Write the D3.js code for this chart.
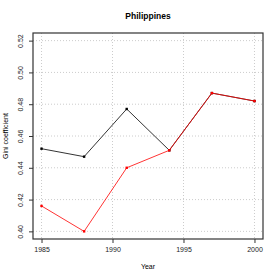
<!DOCTYPE html>
<html>
<head>
<meta charset="utf-8">
<script src="https://cdn.jsdelivr.net/npm/d3@7"></script>
<style>
  body { margin: 0; background: #fff; }
  text { font-family: "Liberation Sans", Arial, sans-serif; }
</style>
</head>
<body>
<div id="chart"></div>
<script>
// data
var years = [1985, 1988, 1991, 1994, 1997, 2000];
var giniBlack = [0.452, 0.447, 0.477, 0.451, 0.487, 0.482];
var giniRed = [0.416, 0.400, 0.440, 0.451, 0.487, 0.482];
var xTicks = [1985, 1990, 1995, 2000];
var yTicks = [0.40, 0.42, 0.44, 0.46, 0.48, 0.50, 0.52];

const size = { width: 280, height: 280 };
const box = { left: 33, right: 263, top: 33, bottom: 239 };

var svg = d3.select("#chart")
    .append("svg")
    .attr("width", size.width)
    .attr("height", size.height);

// scales (R style 4% padding)
var x_scale = d3.scaleLinear()
    .domain([1984.4, 2000.6])
    .range([box.left, box.right]);

var y_scale = d3.scaleLinear()
    .domain([0.3952, 0.5248])
    .range([box.bottom, box.top]);

// grid
svg.append("g")
    .selectAll("line")
    .data(xTicks)
    .join("line")
    .attr("x1", d => x_scale(d)).attr("x2", d => x_scale(d))
    .attr("y1", box.top).attr("y2", box.bottom)
    .attr("stroke", "#cccccc")
    .attr("stroke-dasharray", "1,2");
svg.append("g")
    .selectAll("line")
    .data(yTicks)
    .join("line")
    .attr("y1", d => y_scale(d)).attr("y2", d => y_scale(d))
    .attr("x1", box.left).attr("x2", box.right)
    .attr("stroke", "#cccccc")
    .attr("stroke-dasharray", "1,2");

// axes
var x_axis = d3.axisBottom(x_scale)
    .tickValues(xTicks)
    .tickSize(4)
    .tickPadding(4)
    .tickFormat(d3.format("d"));
var gx = svg.append("g")
    .attr("transform", "translate(0," + box.bottom + ")")
    .call(x_axis);
gx.select(".domain").remove();
gx.selectAll("line").attr("stroke", "#333");
gx.selectAll("text").attr("font-size", 7).attr("fill", "#222");

var y_axis = d3.axisLeft(y_scale)
    .tickValues(yTicks)
    .tickSize(4)
    .tickFormat(d3.format(".2f"));
var gy = svg.append("g")
    .attr("transform", "translate(" + box.left + ",0)")
    .call(y_axis);
gy.select(".domain").remove();
gy.selectAll("line").attr("stroke", "#333");
gy.selectAll("text")
    .attr("font-size", 7)
    .attr("fill", "#222")
    .attr("x", null).attr("dy", null)
    .attr("text-anchor", "middle")
    .attr("transform", "translate(-10,0) rotate(-90)")
    .attr("y", 0);

// box
svg.append("rect")
    .attr("x", box.left).attr("y", box.top)
    .attr("width", box.right - box.left)
    .attr("height", box.bottom - box.top)
    .attr("fill", "none")
    .attr("stroke", "#333")
    .attr("stroke-width", 1.2);

// series
function drawSeries(values, colour) {
    var pts = years.map((y, i) => ({ x: y, y: values[i] }));
    svg.append("path")
        .datum(pts)
        .attr("fill", "none")
        .attr("stroke", colour)
        .attr("stroke-width", 0.8)
        .attr("d", d3.line()
            .x(d => x_scale(d.x))
            .y(d => y_scale(d.y)));
    svg.append("g")
        .selectAll("rect")
        .data(pts)
        .join("rect")
        .attr("x", d => x_scale(d.x) - 1.2)
        .attr("y", d => y_scale(d.y) - 1.2)
        .attr("width", 2.4).attr("height", 2.4)
        .attr("fill", colour);
}
drawSeries(giniBlack, "black");
drawSeries(giniRed, "red");

// labels
svg.append("text")
    .attr("x", 148).attr("y", 19)
    .attr("text-anchor", "middle")
    .attr("font-size", 8.5)
    .attr("font-weight", "bold")
    .text("Philippines");

svg.append("text")
    .attr("x", 148).attr("y", 269)
    .attr("text-anchor", "middle")
    .attr("font-size", 7)
    .text("Year");

svg.append("text")
    .attr("transform", "translate(8," + ((box.top + box.bottom) / 2) + ") rotate(-90)")
    .attr("text-anchor", "middle")
    .attr("font-size", 7)
    .text("Gini coefficient");
</script>
</body>
</html>
